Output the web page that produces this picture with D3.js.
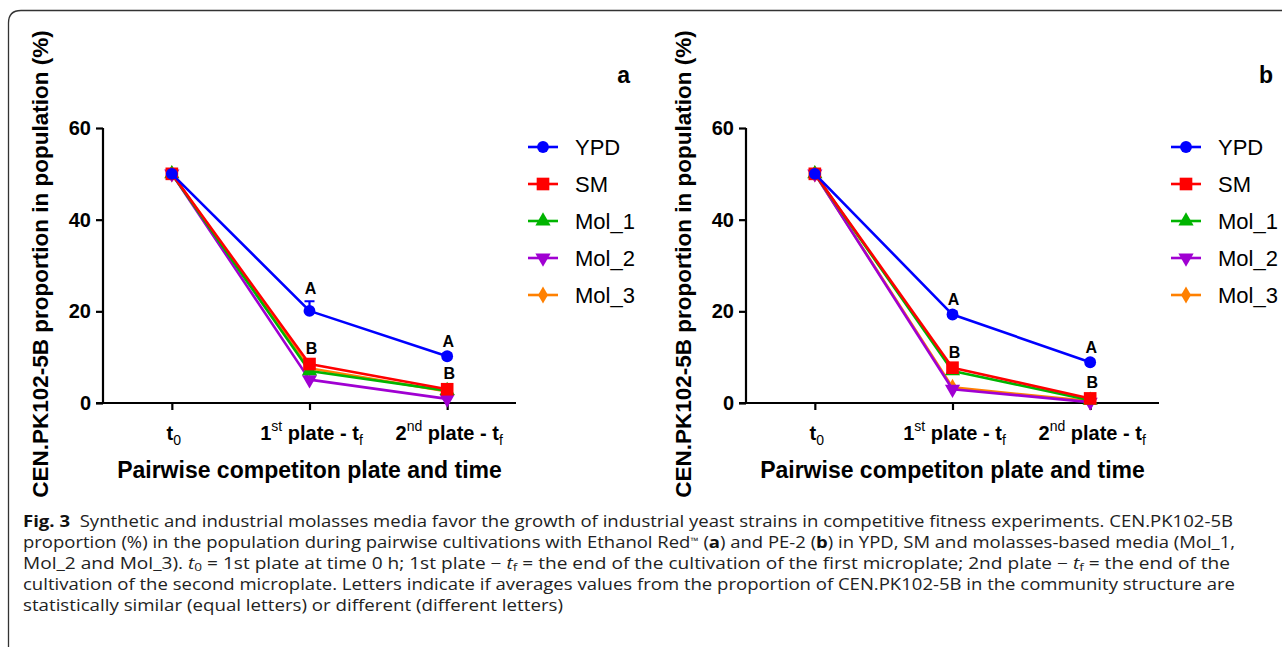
<!DOCTYPE html>
<html>
<head>
<meta charset="utf-8">
<script src="https://cdn.jsdelivr.net/npm/d3@7"></script>
<style>
  html, body { margin: 0; padding: 0; background: #fff; }
  svg { display: block; }
</style>
</head>
<body>
<svg id="chart" width="1282" height="647"></svg>
<script>
// categories on the x axis
const categories = ["t0", "1st", "2nd"];
const seriesNames = ["YPD", "SM", "Mol_1", "Mol_2", "Mol_3"];
const seriesColors = ["#0000ff", "#ff0000", "#00b400", "#a000d2", "#ff8000"];
const yTicks = [0, 20, 40, 60];

// panel a (Ethanol Red)
const ypdA = [50, 20.1, 10.2];
const smA = [50, 8.5, 3.0];
const mol1A = [50, 7.0, 2.7];
const mol2A = [50, 5.1, 0.9];
const mol3A = [50, 7.6, 2.5];
const ypdErrA = [0.4, 2.1, 0.6];

// panel b (PE-2)
const ypdB = [50, 19.3, 8.9];
const smB = [50, 7.7, 1.0];
const mol1B = [50, 7.0, 0.6];
const mol2B = [50, 3.0, 0.2];
const mol3B = [50, 3.4, 0.4];
const ypdErrB = [0.4, 0.6, 0.5];

// statistical letters: top group (YPD) and bottom group (others)
const lettersTop = ["", "A", "A"];
const lettersBottom = ["", "B", "B"];

const svg = d3.select('#chart');
const font = "'Liberation Sans', Arial, sans-serif";

// outer frame (rounded top-left corner, open on the right/bottom)
svg.append('path')
  .attr('d', 'M8.5,647 V23 Q8.5,10.5 21,10.5 H1282')
  .attr('fill', 'none')
  .attr('stroke', '#333')
  .attr('stroke-width', 1.3);

const y = d3.scaleLinear().domain([0, 60]).range([403, 128]);

const symbols = [
  d3.symbol().type(d3.symbolCircle).size(110),
  d3.symbol().type(d3.symbolSquare).size(160),
  d3.symbol().type(d3.symbolTriangle).size(100),
  d3.symbol().type(d3.symbolTriangle).size(100),
  d3.symbol().type(d3.symbolDiamond).size(85)
];

function drawPanel(x0, label, series, ypdErr) {
  const g = svg.append('g');
  const x = d3.scalePoint().domain(categories).range([x0, x0 + 413]).padding(0.5);

  // y axis
  const yAxis = g.append('g')
    .attr('transform', `translate(${x0},0)`)
    .call(d3.axisLeft(y).tickValues(yTicks).tickSize(7).tickPadding(5));
  yAxis.select('.domain').attr('d', `M0,${y(60)}V${y(0)}`);

  // x axis
  const xAxis = g.append('g')
    .attr('transform', `translate(0,${y(0)})`)
    .call(d3.axisBottom(x).tickSize(7).tickFormat(''));
  xAxis.select('.domain').attr('d', `M${x0 - 7},0H${x0 + 413}`);

  [yAxis, xAxis].forEach(ax => {
    ax.select('.domain').attr('stroke', '#000').attr('stroke-width', 2.2);
    ax.selectAll('.tick line').attr('stroke', '#000').attr('stroke-width', 2.2);
  });
  yAxis.selectAll('.tick text')
    .attr('font-family', font).attr('font-weight', 'bold').attr('font-size', 20).attr('fill', '#000');

  // x tick labels with sub/superscripts: [text, bold?, baseline offset]
  const tickParts = {
    "t0": [["t", "b", 0], ["0", "n", 5]],
    "1st": [["1", "b", 0], ["st", "n", -9], [" plate - t", "b", 0], ["f", "n", 5]],
    "2nd": [["2", "b", 0], ["nd", "n", -9], [" plate - t", "b", 0], ["f", "n", 5]]
  };
  categories.forEach(c => {
    const t = g.append('text')
      .attr('x', x(c) + 2).attr('y', 440)
      .attr('text-anchor', 'middle')
      .attr('font-family', font).attr('font-size', 20).attr('font-weight', 'bold');
    let prev = 0;
    tickParts[c].forEach(([s, w, dy]) => {
      t.append('tspan')
        .attr('dy', dy - prev)
        .attr('font-weight', w === 'b' ? 'bold' : 'normal')
        .attr('font-size', w === 'b' ? 20 : 14)
        .text(s);
      prev = dy;
    });
  });

  // axis titles
  g.append('text')
    .attr('x', x0 + 413 / 2).attr('y', 478)
    .attr('text-anchor', 'middle')
    .attr('font-family', font).attr('font-weight', 'bold').attr('font-size', 23)
    .text('Pairwise competiton plate and time');

  g.append('text')
    .attr('transform', `translate(${x0 - 55},264) rotate(-90)`)
    .attr('text-anchor', 'middle')
    .attr('font-family', font).attr('font-weight', 'bold').attr('font-size', 22.5)
    .text('CEN.PK102-5B proportion in population (%)');

  // panel letter
  g.append('text')
    .attr('x', x0 + 527).attr('y', 83)
    .attr('text-anchor', 'end')
    .attr('font-family', font).attr('font-weight', 'bold').attr('font-size', 23)
    .text(label);

  const line = d3.line().x((d, i) => x(categories[i])).y(d => y(d));

  // error bar on YPD (drawn under the series)
  const errG = g.append('g');
  ypdErr.forEach((e, i) => {
    const cx = x(categories[i]);
    const v = series[0][i];
    errG.append('path')
      .attr('d', `M${cx},${y(v)}V${y(v + e)}M${cx - 5},${y(v + e)}H${cx + 5}`)
      .attr('stroke', seriesColors[0]).attr('stroke-width', 2.2).attr('fill', 'none');
  });

  // series drawn last-to-first so that YPD ends up on top
  for (let s = series.length - 1; s >= 0; s--) {
    const vals = series[s];
    g.append('path')
      .datum(vals)
      .attr('d', line)
      .attr('fill', 'none')
      .attr('stroke', seriesColors[s])
      .attr('stroke-width', 2.6)
      .attr('stroke-linejoin', 'round');
    vals.forEach((v, i) => {
      g.append('path')
        .attr('d', symbols[s]())
        .attr('transform', `translate(${x(categories[i])},${y(v)})${s === 3 ? ' rotate(180)' : ''}`)
        .attr('fill', seriesColors[s]);
    });
  }

  // significance letters
  categories.forEach((c, i) => {
    if (lettersTop[i]) {
      const top = series[0][i] + ypdErr[i];
      g.append('text')
        .attr('x', x(c) + 1).attr('y', y(top) - 7)
        .attr('text-anchor', 'middle')
        .attr('font-family', font).attr('font-weight', 'bold').attr('font-size', 16)
        .text(lettersTop[i]);
    }
    if (lettersBottom[i]) {
      const top = d3.max(series.slice(1), d => d[i]);
      g.append('text')
        .attr('x', x(c) + 2).attr('y', y(top) - 10)
        .attr('text-anchor', 'middle')
        .attr('font-family', font).attr('font-weight', 'bold').attr('font-size', 16)
        .text(lettersBottom[i]);
    }
  });

  // legend
  const leg = g.append('g').attr('transform', `translate(${x0 + 425},0)`);
  seriesNames.forEach((name, s) => {
    const ly = 147 + s * 37;
    leg.append('line')
      .attr('x1', 0).attr('x2', 30).attr('y1', ly).attr('y2', ly)
      .attr('stroke', seriesColors[s]).attr('stroke-width', 2.6);
    leg.append('path')
      .attr('d', symbols[s]())
      .attr('transform', `translate(15,${ly})${s === 3 ? ' rotate(180)' : ''}`)
      .attr('fill', seriesColors[s]);
    leg.append('text')
      .attr('x', 47).attr('y', ly + 8)
      .attr('font-family', font).attr('font-size', 22)
      .text(name);
  });
}

drawPanel(103, 'a', [ypdA, smA, mol1A, mol2A, mol3A], ypdErrA);
drawPanel(746, 'b', [ypdB, smB, mol1B, mol2B, mol3B], ypdErrB);

// caption
const capFont = "'Open Sans', 'Noto Sans', sans-serif";
const captionLines = [
  { y: 527, len: 1210, parts: [["Fig. 3", "b"], ["  Synthetic and industrial molasses media favor the growth of industrial yeast strains in competitive fitness experiments. CEN.PK102-5B", "n"]] },
  { y: 548, len: 1212, parts: [["proportion (%) in the population during pairwise cultivations with Ethanol Red", "n"], ["™", "sup"], [" (", "n"], ["a", "b"], [") and PE-2 (", "n"], ["b", "b"], [") in YPD, SM and molasses-based media (Mol_1,", "n"]] },
  { y: 569, len: 1207, parts: [["Mol_2 and Mol_3). ", "n"], ["t", "i"], ["0", "sub"], [" = 1st plate at time 0 h; 1st plate − ", "n"], ["t", "i"], ["f", "sub"], [" = the end of the cultivation of the first microplate; 2nd plate − ", "n"], ["t", "i"], ["f", "sub"], [" = the end of the", "n"]] },
  { y: 590, len: 1212, parts: [["cultivation of the second microplate. Letters indicate if averages values from the proportion of CEN.PK102-5B in the community structure are", "n"]] },
  { y: 611, len: 540, parts: [["statistically similar (equal letters) or different (different letters)", "n"]] }
];
captionLines.forEach(l => {
  const t = svg.append('text')
    .attr('x', 23).attr('y', l.y)
    .attr('font-family', capFont).attr('font-size', 15.5).attr('fill', '#222')
    .attr('textLength', l.len).attr('lengthAdjust', 'spacingAndGlyphs')
    .attr('xml:space', 'preserve');
  l.parts.forEach(([s, k]) => {
    const sp = t.append('tspan').text(s);
    if (k === 'b') sp.attr('font-weight', 'bold').attr('fill', '#111');
    if (k === 'i') sp.attr('font-style', 'italic');
    if (k === 'sub') sp.attr('font-size', 11).attr('baseline-shift', '-15%');
    if (k === 'sup') sp.attr('font-size', 9).attr('baseline-shift', '50%');
  });
});
</script>
</body>
</html>
